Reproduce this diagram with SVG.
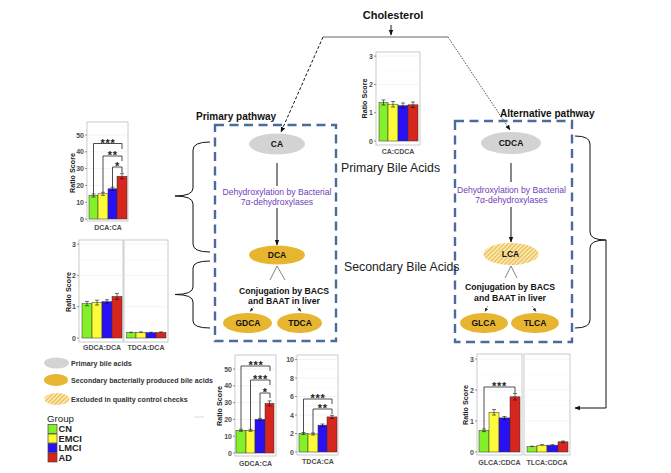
<svg xmlns="http://www.w3.org/2000/svg" width="671" height="473" viewBox="0 0 671 473">
<style>
text{font-family:"Liberation Sans",Arial,sans-serif}
.t{font-weight:bold;fill:#111}
.node{font-size:8.5px;font-weight:bold;fill:#111;text-anchor:middle}
.purple{font-size:8.6px;fill:#7040b8;text-anchor:middle}
.conj{font-size:8.7px;font-weight:bold;fill:#111;text-anchor:middle}
.ax{font-size:7px;font-weight:bold;fill:#4d4d4d}
.tk{font-size:7px;font-weight:bold;fill:#4d4d4d;text-anchor:end}
.rs{font-size:7.2px;font-weight:bold;fill:#1a1a1a;text-anchor:middle}
.st{font-size:11px;font-weight:bold;fill:#222;text-anchor:middle;letter-spacing:0.8px}
.lg{font-size:7.1px;font-weight:bold;fill:#333}
.grp{font-size:9.3px;font-weight:bold;fill:#222}
.panel{fill:#fff;stroke:#bdbdbd;stroke-width:0.8}
.gmaj{stroke:#ebebeb;stroke-width:0.6}
.gmin{stroke:#f5f5f5;stroke-width:0.5}
.bar{stroke:#333;stroke-width:0.5}
.err{stroke:#111;stroke-width:0.6;fill:none}
.sig{stroke:#222;stroke-width:0.8;fill:none}
.g{fill:#84f02a}.y{fill:#fbfb3a}.b{fill:#2a10f5}.r{fill:#d7261e}
.box{fill:none;stroke:#4b6b9b;stroke-width:2.4;stroke-dasharray:9 5.5}
.gray{fill:#d3d3d3}
.gold{fill:#e8b530}
.brace{fill:none;stroke:#111;stroke-width:1}
.conn{fill:none;stroke:#111;stroke-width:1}
.big{font-size:12.3px;fill:#222}
</style>
<defs>
<marker id="ah" viewBox="0 0 10 10" refX="9" refY="5" markerWidth="5.5" markerHeight="5.5" markerUnits="userSpaceOnUse" orient="auto"><path d="M0,1 L10,5 L0,9 z" fill="#111"/></marker>
<marker id="ahs" viewBox="0 0 10 10" refX="9" refY="5" markerWidth="4" markerHeight="4" markerUnits="userSpaceOnUse" orient="auto"><path d="M0,1 L10,5 L0,9 z" fill="#222"/></marker>
<pattern id="hatch" width="3" height="3" patternUnits="userSpaceOnUse" patternTransform="rotate(45)"><rect width="3" height="3" fill="#fdf2cf"/><rect width="1.5" height="3" fill="#ecbb45"/></pattern>
</defs>
<rect width="671" height="473" fill="#fff"/>

<!-- connectors -->
<g id="connectors">
<text x="393" y="19" class="t" font-size="11" text-anchor="middle">Cholesterol</text>
<line x1="391" y1="25" x2="391" y2="35" class="conn" marker-end="url(#ah)"/>
<line x1="323" y1="37" x2="448" y2="37" stroke="#555" stroke-width="0.9"/>
<line x1="323" y1="37" x2="281" y2="132" class="conn" stroke-dasharray="3 2" marker-end="url(#ah)"/>
<line x1="448" y1="37" x2="510" y2="130" stroke="#222" stroke-width="0.8" stroke-dasharray="1.5 1.3" marker-end="url(#ah)"/>
<line x1="277" y1="163" x2="277" y2="186" class="conn"/>
<line x1="277" y1="208" x2="277" y2="245" class="conn" marker-end="url(#ah)"/>
<line x1="511" y1="163" x2="511" y2="182" class="conn"/>
<line x1="511" y1="207" x2="511" y2="242" class="conn" marker-end="url(#ah)"/>
<path d="M270,280 L277,266 L285,280" fill="none" stroke="#333" stroke-width="0.6"/>
<path d="M505,278 L511,266 L517,278" fill="none" stroke="#333" stroke-width="0.6"/>
<line x1="254" y1="307" x2="250" y2="311.5" stroke="#222" stroke-width="0.6" stroke-dasharray="1 1" marker-end="url(#ahs)"/>
<line x1="297" y1="307" x2="301" y2="311.5" stroke="#222" stroke-width="0.6" stroke-dasharray="1 1" marker-end="url(#ahs)"/>
<line x1="488" y1="306" x2="485" y2="311.5" stroke="#222" stroke-width="0.6" stroke-dasharray="1 1" marker-end="url(#ahs)"/>
<line x1="532" y1="306" x2="536" y2="311.5" stroke="#222" stroke-width="0.6" stroke-dasharray="1 1" marker-end="url(#ahs)"/>
<path class="brace" d="M210,142 Q193,142 193,150 L193,188 Q193,196 175,196 Q193,196 193,204 L193,244 Q193,252 210,252"/>
<path class="brace" d="M210,261 Q193,261 193,268 L193,287 Q193,294.5 175,294.5 Q193,294.5 193,302 L193,321 Q193,328 210,328"/>
<path class="brace" d="M575,136 Q590,136 590,144 L590,232 Q590,240 606,240 Q590,240 590,248 L590,320 Q590,328 575,328"/>
<path class="conn" d="M606,240 V408 H575" marker-end="url(#ah)"/>
<line x1="194" y1="417" x2="204" y2="417" stroke="#d0d0d0" stroke-width="0.8"/>
</g>

<!-- pathway boxes and nodes -->
<g id="primary-pathway">
<text x="196" y="119.5" class="t" font-size="10">Primary pathway</text>
<rect x="215" y="125" width="121" height="216" class="box"/>
<text x="277" y="195" class="purple">Dehydroxylation by Bacterial</text>
<text x="277" y="205" class="purple">7α-dehydroxylases</text>
<text x="284" y="294" class="conj">Conjugation by BACS</text>
<text x="284" y="304" class="conj">and BAAT in liver</text>
</g>
<g id="node-CA"><ellipse cx="277" cy="144" rx="28" ry="10.5" class="gray"/><text x="277" y="147" class="node">CA</text></g>
<g id="node-DCA"><ellipse cx="277" cy="255" rx="28" ry="9.5" class="gold"/><text x="277" y="258" class="node">DCA</text></g>
<g id="node-GDCA"><ellipse cx="247.5" cy="323" rx="24.5" ry="10" class="gold"/><text x="248" y="326" class="node">GDCA</text></g>
<g id="node-TDCA"><ellipse cx="299.5" cy="323" rx="22.5" ry="10" class="gold"/><text x="300" y="326" class="node">TDCA</text></g>

<g id="alternative-pathway">
<text x="500" y="117" class="t" font-size="10">Alternative pathway</text>
<rect x="455" y="121" width="117" height="221" class="box"/>
<text x="511.5" y="193" class="purple">Dehydroxylation by Bacterial</text>
<text x="511.5" y="203" class="purple">7α-dehydroxylases</text>
<text x="510" y="290" class="conj">Conjugation by BACS</text>
<text x="510" y="301" class="conj">and BAAT in liver</text>
</g>
<g id="node-CDCA"><ellipse cx="511" cy="143" rx="30" ry="11" class="gray"/><text x="511" y="146" class="node">CDCA</text></g>
<g id="node-LCA"><ellipse cx="511" cy="254" rx="27.5" ry="11" fill="url(#hatch)"/><text x="510.5" y="257" class="node">LCA</text></g>
<g id="node-GLCA"><ellipse cx="484" cy="323" rx="24" ry="10" class="gold"/><text x="483.5" y="326" class="node">GLCA</text></g>
<g id="node-TLCA"><ellipse cx="535" cy="323" rx="24" ry="10" class="gold"/><text x="535" y="326" class="node">TLCA</text></g>

<g id="labels">
<text x="341" y="172" class="big">Primary Bile Acids</text>
<text x="344" y="271" class="big">Secondary Bile Acids</text>
</g>

<!-- chart CA:CDCA -->
<g id="chart-CA-CDCA">
<rect x="376" y="52" width="44" height="93" class="panel"/>
<path class="gmin" d="M376,126.85H420M376,98.55H420M376,70.25H420"/>
<path class="gmaj" d="M376,141H420M376,112.7H420M376,84.4H420M376,56.1H420"/>
<rect x="379" y="102.5" width="9" height="38.5" class="bar g"/>
<rect x="388" y="104.2" width="10" height="36.8" class="bar y"/>
<rect x="398" y="105.6" width="10" height="35.4" class="bar b"/>
<rect x="408" y="104.8" width="10" height="36.2" class="bar r"/>
<path class="err" d="M383.5,100V105M381.5,100H385.5M381.5,105H385.5M393,101.5V107M391,101.5H395M391,107H395M403,103V108M401,103H405M401,108H405M413,102V107.5M411,102H415M411,107.5H415"/>
<path stroke="#4d4d4d" stroke-width="0.6" d="M374,141H376M374,112.7H376M374,84.4H376M374,56.1H376"/>
<text x="373" y="143.5" class="tk">0</text><text x="373" y="115.2" class="tk">1</text><text x="373" y="86.9" class="tk">2</text><text x="373" y="58.6" class="tk">3</text>
<text transform="translate(367,98.5) rotate(-90)" class="rs">Ratio Score</text>
<text x="398" y="153.5" class="ax" text-anchor="middle">CA:CDCA</text>
</g>

<!-- chart DCA:CA -->
<g id="chart-DCA-CA">
<rect x="87" y="122" width="41" height="99" class="panel"/>
<path class="gmin" d="M87,210.6H128M87,193.8H128M87,177H128M87,160.2H128M87,143.4H128M87,126.6H128"/>
<path class="gmaj" d="M87,219H128M87,202.2H128M87,185.4H128M87,168.6H128M87,151.8H128M87,135H128"/>
<rect x="89" y="195.5" width="9" height="23.5" class="bar g"/>
<rect x="98" y="193.8" width="10" height="25.2" class="bar y"/>
<rect x="108" y="188.8" width="9" height="30.2" class="bar b"/>
<rect x="117" y="176.2" width="10" height="42.8" class="bar r"/>
<path class="err" d="M93.5,194V197M91.5,194H95.5M91.5,197H95.5M103,192.3V195.3M101,192.3H105M101,195.3H105M112.5,187.3V190.3M110.5,187.3H114.5M110.5,190.3H114.5M122,173.7V178.7M120,173.7H124M120,178.7H124"/>
<path class="sig" d="M93.5,194V143.5H122V149M103,192.3V156H122V161M112.5,187.3V167H122V173"/>
<text x="108" y="146.5" class="st">***</text>
<text x="112.8" y="159" class="st">**</text>
<text x="117.5" y="170" class="st">*</text>
<path stroke="#4d4d4d" stroke-width="0.6" d="M85,219H87M85,202.2H87M85,185.4H87M85,168.6H87M85,151.8H87M85,135H87"/>
<text x="84" y="221.5" class="tk">0</text><text x="84" y="204.7" class="tk">10</text><text x="84" y="187.9" class="tk">20</text><text x="84" y="171.1" class="tk">30</text><text x="84" y="154.3" class="tk">40</text><text x="84" y="137.5" class="tk">50</text>
<text transform="translate(74.5,173) rotate(-90)" class="rs">Ratio Score</text>
<text x="108" y="229.5" class="ax" text-anchor="middle">DCA:CA</text>
</g>

<!-- chart GDCA:DCA / TDCA:DCA -->
<g id="chart-GDCA-TDCA-DCA">
<rect x="79" y="240" width="44" height="102" class="panel"/>
<rect x="124" y="240" width="44" height="102" class="panel"/>
<path class="gmin" d="M79,322.35H123M79,291.05H123M79,259.75H123M124,322.35H168M124,291.05H168M124,259.75H168"/>
<path class="gmaj" d="M79,338H123M79,306.7H123M79,275.4H123M79,244.1H123M124,338H168M124,306.7H168M124,275.4H168M124,244.1H168"/>
<rect x="82" y="303.6" width="10" height="34.4" class="bar g"/>
<rect x="92" y="302.6" width="10" height="35.4" class="bar y"/>
<rect x="102" y="301.7" width="10" height="36.3" class="bar b"/>
<rect x="112" y="296.4" width="10" height="41.6" class="bar r"/>
<rect x="126.5" y="332.7" width="9.5" height="5.3" class="bar g"/>
<rect x="136" y="332.4" width="10" height="5.6" class="bar y"/>
<rect x="146" y="332.7" width="10" height="5.3" class="bar b"/>
<rect x="156" y="332.4" width="10" height="5.6" class="bar r"/>
<path class="err" d="M87,301.4V305.8M85,301.4H89M85,305.8H89M97,300.2V305M95,300.2H99M95,305H99M107,299.7V303.7M105,299.7H109M105,303.7H109M117,293.4V299.4M115,293.4H119M115,299.4H119M131,332.2V333.2M129,332.2H133M141,331.9V332.9M139,331.9H143M151,332.2V333.2M149,332.2H153M161,331.9V332.9M159,331.9H163"/>
<path stroke="#4d4d4d" stroke-width="0.6" d="M77,338H79M77,306.7H79M77,275.4H79M77,244.1H79"/>
<text x="76" y="340.5" class="tk">0</text><text x="76" y="309.2" class="tk">1</text><text x="76" y="277.9" class="tk">2</text><text x="76" y="246.6" class="tk">3</text>
<text transform="translate(71,292) rotate(-90)" class="rs">Ratio Score</text>
<text x="102" y="349.5" class="ax" text-anchor="middle">GDCA:DCA</text>
<text x="146" y="349.5" class="ax" text-anchor="middle">TDCA:DCA</text>
</g>

<!-- chart GDCA:CA -->
<g id="chart-GDCA-CA">
<rect x="235" y="355" width="41" height="101" class="panel"/>
<path class="gmin" d="M235,444.6H276M235,427.8H276M235,411H276M235,394.2H276M235,377.4H276M235,360.6H276"/>
<path class="gmaj" d="M235,453H276M235,436.2H276M235,419.4H276M235,402.6H276M235,385.8H276M235,369H276"/>
<rect x="236" y="430.3" width="10" height="22.7" class="bar g"/>
<rect x="246" y="430.3" width="9" height="22.7" class="bar y"/>
<rect x="255" y="419.4" width="10" height="33.6" class="bar b"/>
<rect x="265" y="403.4" width="9" height="49.6" class="bar r"/>
<path class="err" d="M241,429.3V431.3M239,429.3H243M239,431.3H243M250.5,429.3V431.3M248.5,429.3H252.5M248.5,431.3H252.5M260,418.4V420.4M258,418.4H262M258,420.4H262M269.5,400.9V405.9M267.5,400.9H271.5M267.5,405.9H271.5"/>
<path class="sig" d="M241,429.3V366H270V371M250.5,429.3V380H270V385M260,418.4V393H270V398"/>
<text x="256" y="368.5" class="st">***</text>
<text x="260.5" y="382.5" class="st">***</text>
<text x="265.2" y="395.5" class="st">*</text>
<path stroke="#4d4d4d" stroke-width="0.6" d="M233,453H235M233,436.2H235M233,419.4H235M233,402.6H235M233,385.8H235M233,369H235"/>
<text x="232" y="455.5" class="tk">0</text><text x="232" y="438.7" class="tk">10</text><text x="232" y="421.9" class="tk">20</text><text x="232" y="405.1" class="tk">30</text><text x="232" y="388.3" class="tk">40</text><text x="232" y="371.5" class="tk">50</text>
<text transform="translate(221.5,406) rotate(-90)" class="rs">Ratio Score</text>
<text x="255.5" y="465.5" class="ax" text-anchor="middle">GDCA:CA</text>
</g>

<!-- chart TDCA:CA -->
<g id="chart-TDCA-CA">
<rect x="297" y="355" width="41" height="100" class="panel"/>
<path class="gmin" d="M297,442.75H338M297,424.25H338M297,405.75H338M297,387.25H338M297,368.75H338"/>
<path class="gmaj" d="M297,452H338M297,433.5H338M297,415H338M297,396.5H338M297,378H338M297,359.5H338"/>
<rect x="299" y="433.5" width="9" height="18.5" class="bar g"/>
<rect x="308" y="434" width="10" height="18" class="bar y"/>
<rect x="318" y="425.2" width="9" height="26.8" class="bar b"/>
<rect x="327" y="416.9" width="10" height="35.1" class="bar r"/>
<path class="err" d="M303.5,432.5V434.5M301.5,432.5H305.5M301.5,434.5H305.5M313,433V435M311,433H315M311,435H315M322.5,424V426.4M320.5,424H324.5M320.5,426.4H324.5M332,415.3V418.5M330,415.3H334M330,418.5H334"/>
<path class="sig" d="M303.5,432.5V399H332V404M313,433V409H332V414"/>
<text x="318" y="401.5" class="st">***</text>
<text x="322.8" y="411.5" class="st">**</text>
<path stroke="#4d4d4d" stroke-width="0.6" d="M295,452H297M295,433.5H297M295,415H297M295,396.5H297M295,378H297M295,359.5H297"/>
<text x="294" y="454.5" class="tk">0</text><text x="294" y="436" class="tk">2</text><text x="294" y="417.5" class="tk">4</text><text x="294" y="399" class="tk">6</text><text x="294" y="380.5" class="tk">8</text><text x="294" y="362" class="tk">10</text>
<text x="318" y="463.5" class="ax" text-anchor="middle">TDCA:CA</text>
</g>

<!-- chart GLCA:CDCA / TLCA:CDCA -->
<g id="chart-GLCA-TLCA-CDCA">
<rect x="477" y="354" width="45" height="101" class="panel"/>
<rect x="524" y="354" width="46" height="101" class="panel"/>
<path class="gmin" d="M477,436.5H522M477,405.5H522M477,374.5H522M524,436.5H570M524,405.5H570M524,374.5H570"/>
<path class="gmaj" d="M477,452H522M477,421H522M477,390H522M477,359H522M524,452H570M524,421H570M524,390H570M524,359H570"/>
<rect x="479" y="430.3" width="10" height="21.7" class="bar g"/>
<rect x="489" y="412.3" width="10" height="39.7" class="bar y"/>
<rect x="499" y="417.9" width="11" height="34.1" class="bar b"/>
<rect x="510" y="396.8" width="10" height="55.2" class="bar r"/>
<rect x="527" y="446.7" width="10" height="5.3" class="bar g"/>
<rect x="537" y="445.2" width="10" height="6.8" class="bar y"/>
<rect x="547" y="445.2" width="11" height="6.8" class="bar b"/>
<rect x="558" y="441.8" width="10" height="10.2" class="bar r"/>
<path class="err" d="M484,429V431.6M482,429H486M482,431.6H486M494,409.5V415M492,409.5H496M492,415H496M504.5,416.5V419.3M502.5,416.5H506.5M502.5,419.3H506.5M515,393.5V400M513,393.5H517M513,400H517M532,446.2V447.2M530,446.2H534M542,444.7V445.7M540,444.7H544M552.5,444.7V445.7M550.5,444.7H554.5M563,441V442.6M561,441H565M561,442.6H565"/>
<path class="sig" d="M484,429V387H515V393"/>
<text x="499.5" y="389.5" class="st">***</text>
<path stroke="#4d4d4d" stroke-width="0.6" d="M475,452H477M475,421H477M475,390H477M475,359H477"/>
<text x="474" y="454.5" class="tk">0</text><text x="474" y="423.5" class="tk">1</text><text x="474" y="392.5" class="tk">2</text><text x="474" y="361.5" class="tk">3</text>
<text transform="translate(467.5,405) rotate(-90)" class="rs">Ratio Score</text>
<text x="499.5" y="464.5" class="ax" text-anchor="middle">GLCA:CDCA</text>
<text x="547" y="464.5" class="ax" text-anchor="middle">TLCA:CDCA</text>
</g>

<!-- legend -->
<g id="legend">
<ellipse cx="56.5" cy="363" rx="12.5" ry="5.5" class="gray"/>
<text x="71" y="365.5" class="lg">Primary bile acids</text>
<ellipse cx="56" cy="380" rx="12" ry="6" class="gold"/>
<text x="71" y="382.5" class="lg">Secondary bacterially produced bile acids</text>
<ellipse cx="57" cy="399" rx="12.5" ry="6" fill="url(#hatch)"/>
<text x="71" y="401.5" class="lg">Excluded in quality control checks</text>
<text x="47" y="421.5" font-size="9.7" fill="#222">Group</text>
<rect x="48" y="424.5" width="9" height="9" class="g" stroke="#444" stroke-width="0.7"/>
<rect x="48" y="434" width="9" height="9" class="y" stroke="#444" stroke-width="0.7"/>
<rect x="48" y="443.5" width="9" height="9" class="b" stroke="#444" stroke-width="0.7"/>
<rect x="48" y="453" width="9" height="9" class="r" stroke="#444" stroke-width="0.7"/>
<text x="58.5" y="432.3" class="grp">CN</text>
<text x="58.5" y="441.8" class="grp">EMCI</text>
<text x="58.5" y="451.3" class="grp">LMCI</text>
<text x="58.5" y="460.8" class="grp">AD</text>
</g>
</svg>
